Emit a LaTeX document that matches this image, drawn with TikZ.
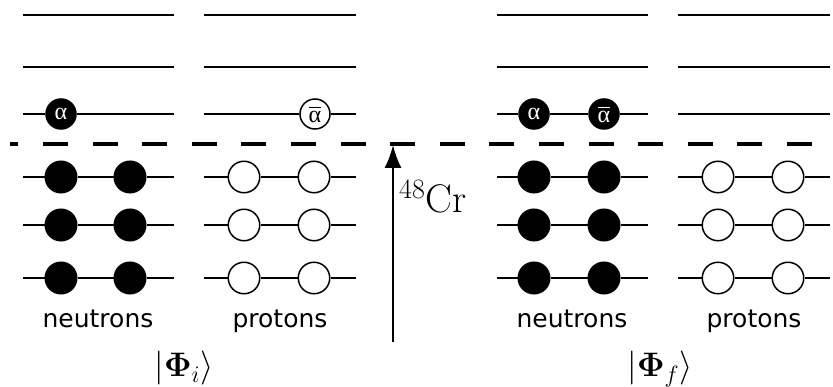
\RequirePackage{fix-cm}
\documentclass[tikz,border=0pt]{standalone}
\usepackage{amsmath}
\usepackage{fontspec}
\newfontfamily\labelfont{DejaVu Sans}
\newfontfamily\greekfont{Liberation Serif}
\usetikzlibrary{arrows.meta}
\newcommand{\alphabar}{$\overline{\mbox{\greekfont α}}$}
\begin{document}
\begin{tikzpicture}[x=1pt,y=-1pt,
  level/.style={line width=2pt},
  sep/.style={line width=3.2pt,dash pattern=on 25pt off 24.6pt},
  full/.style={circle,fill=black,draw=black,line width=1.5pt,minimum size=31.5pt,inner sep=0pt},
  empty/.style={circle,fill=white,draw=black,line width=1.5pt,minimum size=31.5pt,inner sep=0pt},
  afull/.style={circle,fill=black,draw=black,line width=1.5pt,minimum size=30pt,inner sep=0pt,text=white,font=\greekfont\fontsize{24}{28}\selectfont},
  aempty/.style={circle,fill=white,draw=black,line width=1.5pt,minimum size=30pt,inner sep=0pt,font=\greekfont\fontsize{24}{28}\selectfont},
  lab/.style={font=\labelfont\fontsize{25}{30}\selectfont,anchor=base},
  state/.style={font=\fontsize{34}{40}\selectfont,anchor=base}]
\useasboundingbox (0,0) rectangle (833,387);
% level lines: neutrons left, protons left, neutrons right, protons right
\foreach \xa/\xb/\nm in {23/174/nl,204/356/pl,497/648/nr,678/830/pr}{
  \foreach \yy/\k in {15/a,67/b,114/c,177/d,225/e,278/f}{
    \coordinate (\nm\k1) at (\xa,\yy);
    \coordinate (\nm\k2) at (\xb,\yy);
  }
}
% left neutrons
\node[afull] (nla) at (61,114) {α};
\foreach \k in {d,e,f}{
  \node[full] (nl\k L) at (61,0 |- nl\k1) {};
  \node[full] (nl\k R) at (130,0 |- nl\k1) {};
}
% left protons
\node[aempty] (pla) at (315,114) {\alphabar};
\foreach \k in {d,e,f}{
  \node[empty] (pl\k L) at (244,0 |- pl\k1) {};
  \node[empty] (pl\k R) at (314,0 |- pl\k1) {};
}
% right neutrons
\node[afull] (nra) at (534,114) {α};
\node[afull] (nrb) at (604,114) {\alphabar};
\foreach \k in {d,e,f}{
  \node[full] (nr\k L) at (534,0 |- nr\k1) {};
  \node[full] (nr\k R) at (604,0 |- nr\k1) {};
}
% right protons
\foreach \k in {d,e,f}{
  \node[empty] (pr\k L) at (718,0 |- pr\k1) {};
  \node[empty] (pr\k R) at (788,0 |- pr\k1) {};
}
% lines
\foreach \nm in {nl,pl,nr,pr}{
  \draw[level] (\nm a1) -- (\nm a2);
  \draw[level] (\nm b1) -- (\nm b2);
}
\draw[level] (nlc1) -- (nla) -- (nlc2);
\draw[level] (plc1) -- (pla) -- (plc2);
\draw[level] (nrc1) -- (nra) -- (nrb) -- (nrc2);
\draw[level] (prc1) -- (prc2);
\foreach \nm in {nl,pl,nr,pr}{
  \foreach \k in {d,e,f}{
    \draw[level] (\nm\k1) -- (\nm\k L) -- (\nm\k R) -- (\nm\k2);
  }
}
% separator
\coordinate (sepR) at (812,144);
\coordinate (sepL) at (10,144);
\draw[sep] (sepR) -- (sepL);
% arrow
\coordinate (arB) at (393,342);
\coordinate (arT) at (393,145);
\draw[line width=2pt,-{Latex[length=23pt,width=17pt]}] (arB) -- (arT);
\node[anchor=base west,inner sep=0pt,font=\fontsize{40}{48}\selectfont] (cr) at (399,213) {$^{48}$Cr};
% labels
\node[lab] (nlabL) at (98,328) {neutrons};
\node[lab] (plabL) at (280,328) {protons};
\node[lab] (nlabR) at (572,328) {neutrons};
\node[lab] (plabR) at (754,328) {protons};
\node[state] (phii) at (184,377) {$|\boldsymbol{\Phi}_i\rangle$};
\node[state] (phif) at (660,377) {$|\boldsymbol{\Phi}_f\rangle$};
\end{tikzpicture}
\end{document}
